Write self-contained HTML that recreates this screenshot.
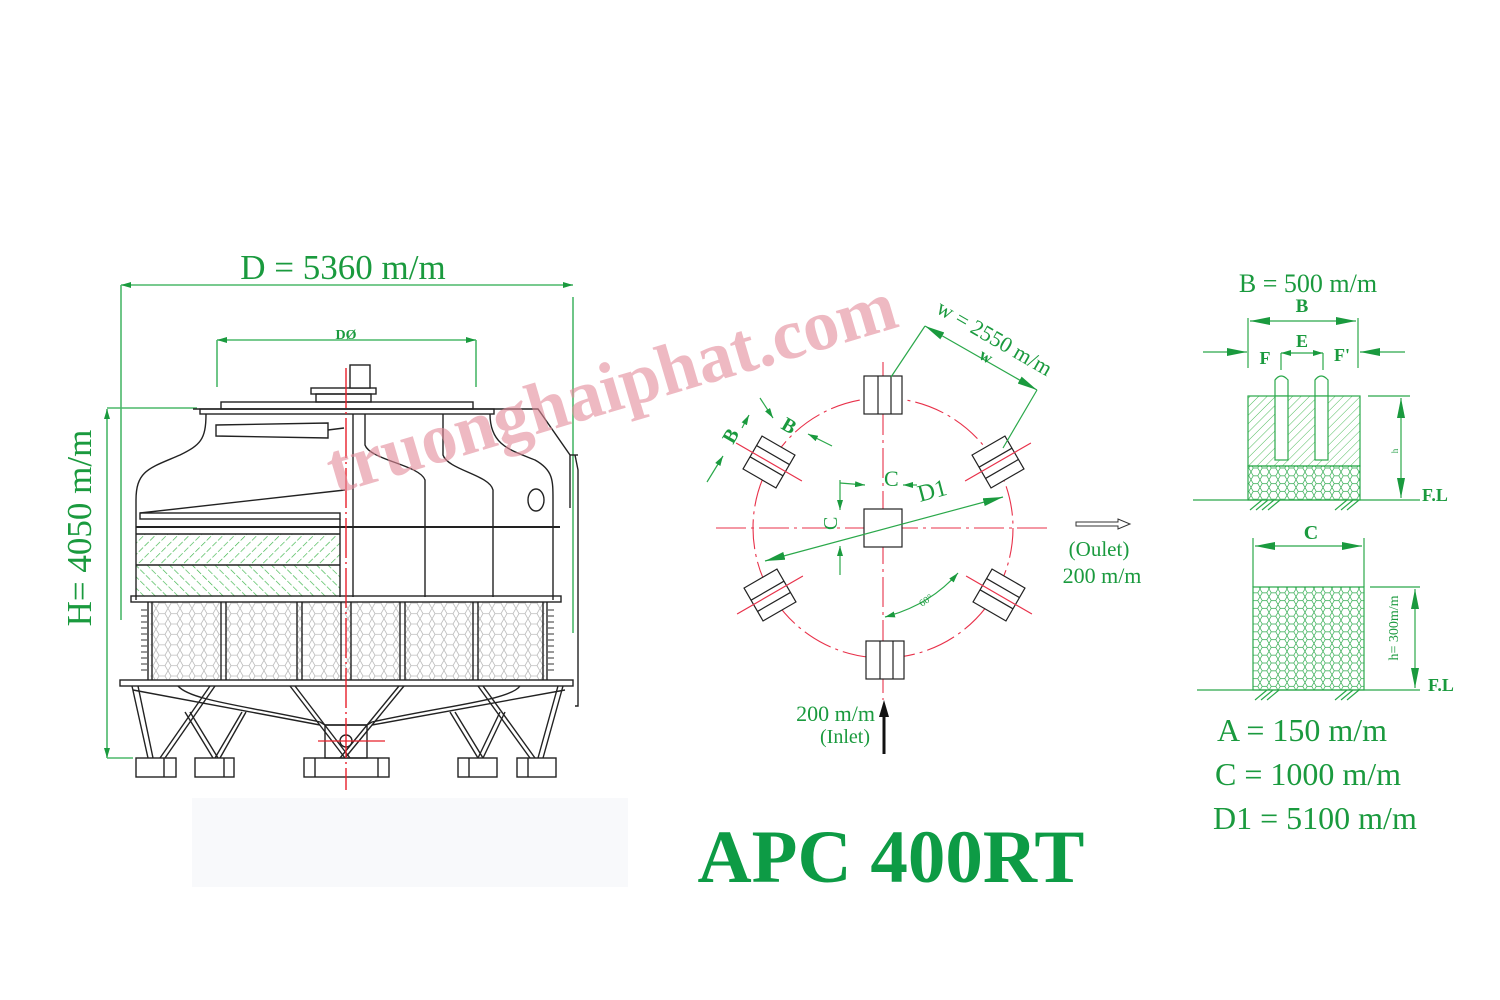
<!DOCTYPE html>
<html><head><meta charset="utf-8">
<style>
html,body{margin:0;padding:0;background:#fff;}
svg{display:block;}
text{font-family:"Liberation Serif",serif;}
</style></head>
<body>
<svg width="1500" height="1000" viewBox="0 0 1500 1000" xmlns="http://www.w3.org/2000/svg">
<defs>
 <pattern id="hexg" width="12" height="10.4" patternUnits="userSpaceOnUse">
  <path d="M0,5.2 L3,0 L9,0 L12,5.2 L9,10.4 L3,10.4 Z" fill="none" stroke="#bbb" stroke-width="0.8"/>
 </pattern>
 <pattern id="hexgr" width="9" height="7.8" patternUnits="userSpaceOnUse">
  <path d="M0,3.9 L2.25,0 L6.75,0 L9,3.9 L6.75,7.8 L2.25,7.8 Z" fill="none" stroke="#2aa84a" stroke-width="0.7"/>
 </pattern>
 <pattern id="hatchR" width="8" height="8" patternUnits="userSpaceOnUse" patternTransform="rotate(45)">
  <line x1="0" y1="0" x2="0" y2="8" stroke="#3cb54a" stroke-width="1.3" stroke-dasharray="4,2"/>
 </pattern>
 <pattern id="hatchL" width="8" height="8" patternUnits="userSpaceOnUse" patternTransform="rotate(-45)">
  <line x1="0" y1="0" x2="0" y2="8" stroke="#3cb54a" stroke-width="1.3" stroke-dasharray="4,2"/>
 </pattern>
 <pattern id="hatchD" width="6" height="6" patternUnits="userSpaceOnUse" patternTransform="rotate(45)">
  <line x1="0" y1="0" x2="0" y2="6" stroke="#3cb54a" stroke-width="0.9"/>
 </pattern>
 <marker id="ar" viewBox="0 0 10 6" refX="10" refY="3" markerWidth="10" markerHeight="6" orient="auto-start-reverse" markerUnits="userSpaceOnUse">
  <path d="M0,0 L10,3 L0,6 Z" fill="#1a9a3e"/>
 </marker>
 <marker id="arb" viewBox="0 0 20 8" refX="20" refY="4" markerWidth="20" markerHeight="8" orient="auto-start-reverse" markerUnits="userSpaceOnUse">
  <path d="M0,0 L20,4 L0,8 Z" fill="#1a9a3e"/>
 </marker>
</defs>

<rect x="192" y="798" width="436" height="89" fill="#f8f9fb"/>

<g stroke="#4bb86a" stroke-width="1.6" fill="none">
 <line x1="121" y1="285" x2="573" y2="285" marker-start="url(#ar)" marker-end="url(#ar)"/>
 <line x1="121" y1="285" x2="121" y2="620"/>
 <line x1="573" y1="297" x2="573" y2="633"/>
 <line x1="217" y1="340" x2="476" y2="340" marker-start="url(#ar)" marker-end="url(#ar)"/>
 <line x1="217" y1="340" x2="217" y2="387"/>
 <line x1="476" y1="340" x2="476" y2="387"/>
 <line x1="107" y1="409" x2="107" y2="758" marker-start="url(#ar)" marker-end="url(#ar)"/>
 <line x1="107" y1="408" x2="197" y2="408"/>
 <line x1="107" y1="758" x2="133" y2="758"/>
</g>
<text x="343" y="279" font-size="35" fill="#1a9a3e" text-anchor="middle">D = 5360 m/m</text>
<text x="346" y="339" font-size="14" font-weight="bold" fill="#1a9a3e" text-anchor="middle">DØ</text>
<text transform="translate(91,528) rotate(-90)" font-size="35" fill="#1a9a3e" text-anchor="middle">H= 4050 m/m</text>

<rect x="136" y="534" width="204" height="31" fill="url(#hatchR)"/>
<rect x="136" y="565" width="204" height="32" fill="url(#hatchL)"/>
<rect x="150" y="602" width="395" height="78" fill="url(#hexg)"/>

<g stroke="#222" stroke-width="1.4" fill="none">
 <rect x="221" y="402" width="252" height="7"/>
 <rect x="311" y="388" width="65" height="6"/>
 <rect x="316" y="394" width="55" height="8"/>
 <rect x="350" y="365" width="20" height="23" fill="#fff"/>
 <rect x="200" y="409" width="294" height="5"/>
 <path d="M206,414 C206,440 200,445 180,455 C150,468 136,470 136,500 L136,600"/>
 <path d="M490,414 C490,445 510,450 535,460 C553,470 553,480 553,500 L553,600"/>
 <path d="M193,409 L538,409 L570,455 L570,508"/>
 <path d="M575,455 L578,470 L578,706 L575,706"/>
 <line x1="570" y1="455" x2="578" y2="455"/>
 <path d="M216,425 L328,423 L328,438 L216,436 Z"/>
 <line x1="328" y1="430" x2="344" y2="428"/>
 <path d="M365,414 L365,445 C370,460 420,465 425,480 L425,597"/>
 <path d="M443,414 L443,455 C448,470 490,475 493,490 L493,597"/>
 <line x1="353" y1="414" x2="353" y2="597"/>
 <ellipse cx="536" cy="500" rx="8" ry="11"/>
 <line x1="140" y1="513" x2="345" y2="490"/>
 <rect x="140" y="513" width="200" height="6"/>
 <line x1="136" y1="527" x2="560" y2="527" stroke-width="2"/>
 <line x1="136" y1="534" x2="340" y2="534"/>
 <line x1="136" y1="565" x2="340" y2="565"/>
 <line x1="340" y1="519" x2="340" y2="597"/>
 <rect x="131" y="596" width="430" height="6"/>
 <line x1="148" y1="602" x2="148" y2="680"/><line x1="152" y1="602" x2="152" y2="680"/>
 <line x1="221" y1="602" x2="221" y2="680"/><line x1="226" y1="602" x2="226" y2="680"/>
 <line x1="297" y1="602" x2="297" y2="680"/><line x1="302" y1="602" x2="302" y2="680"/>
 <line x1="341" y1="602" x2="341" y2="680"/><line x1="351" y1="602" x2="351" y2="680"/>
 <line x1="400" y1="602" x2="400" y2="680"/><line x1="405" y1="602" x2="405" y2="680"/>
 <line x1="473" y1="602" x2="473" y2="680"/><line x1="478" y1="602" x2="478" y2="680"/>
 <line x1="543" y1="602" x2="543" y2="680"/><line x1="547" y1="602" x2="547" y2="680"/>
 <rect x="120" y="680" width="453" height="6"/>
 <path d="M178,686 C190,700 240,705 320,722 L325,725 L367,725 L372,722 C450,705 510,700 520,686"/>
 <path d="M133,690 L320,725"/><path d="M565,690 L372,725"/>
 <path d="M132,686 L148,758"/><path d="M138,686 L153,758"/>
 <path d="M215,686 L165,758"/><path d="M210,686 L160,758"/>
 <path d="M185,712 L213,758"/><path d="M190,712 L218,758"/>
 <path d="M242,712 L215,758"/><path d="M246,712 L220,758"/>
 <path d="M290,686 L345,758"/><path d="M295,686 L350,758"/>
 <path d="M404,686 L345,758"/><path d="M399,686 L340,758"/>
 <path d="M450,712 L478,758"/><path d="M455,712 L483,758"/>
 <path d="M478,686 L530,758"/><path d="M483,686 L535,758"/>
 <path d="M500,712 L478,758"/><path d="M505,712 L483,758"/>
 <path d="M563,686 L543,758"/><path d="M558,686 L538,758"/>
 <rect x="325" y="725" width="42" height="33"/>
 <circle cx="346" cy="741" r="6"/>
 <rect x="136" y="758" width="40" height="19"/><line x1="164" y1="758" x2="164" y2="777"/>
 <rect x="195" y="758" width="39" height="19"/><line x1="224" y1="758" x2="224" y2="777"/>
 <rect x="304" y="758" width="85" height="19"/><line x1="315" y1="758" x2="315" y2="777"/><line x1="378" y1="758" x2="378" y2="777"/>
 <rect x="458" y="758" width="39" height="19"/><line x1="469" y1="758" x2="469" y2="777"/>
 <rect x="517" y="758" width="39" height="19"/><line x1="528" y1="758" x2="528" y2="777"/>
</g>
<g stroke="#333" stroke-width="1">
 <path d="M141,610 h6 M141,616 h6 M141,622 h6 M141,628 h6 M141,634 h6 M141,640 h6 M141,646 h6 M141,652 h6 M141,658 h6 M141,664 h6 M141,670 h6"/>
 <path d="M548,610 h6 M548,616 h6 M548,622 h6 M548,628 h6 M548,634 h6 M548,640 h6 M548,646 h6 M548,652 h6 M548,658 h6 M548,664 h6 M548,670 h6"/>
</g>
<line x1="346" y1="368" x2="346" y2="790" stroke="#e8202a" stroke-width="1.4" stroke-dasharray="40,4,2,4"/>
<line x1="318" y1="741" x2="385" y2="741" stroke="#e8202a" stroke-width="1.2"/>

<g stroke="#e8314a" stroke-width="1.1" fill="none" stroke-dasharray="30,5,3,5">
 <circle cx="883" cy="528" r="130"/>
 <line x1="716" y1="528" x2="1052" y2="528"/>
 <line x1="883" y1="362" x2="883" y2="700"/>
</g>
<g stroke="#222" stroke-width="1.2" fill="#fff">
 <g transform="translate(883,395)"><rect x="-19" y="-19" width="38" height="38"/><line x1="-5" y1="-19" x2="-5" y2="19"/><line x1="8" y1="-19" x2="8" y2="19"/></g>
 <g transform="translate(885,660)"><rect x="-19" y="-19" width="38" height="38"/><line x1="-5" y1="-19" x2="-5" y2="19"/><line x1="8" y1="-19" x2="8" y2="19"/></g>
 <rect x="864" y="509" width="38" height="38"/>
 <g transform="translate(998,462) rotate(60)"><rect x="-19" y="-19" width="38" height="38"/><line x1="-5" y1="-19" x2="-5" y2="19"/><line x1="8" y1="-19" x2="8" y2="19"/><line x1="0" y1="-38" x2="0" y2="38" stroke="#e8314a"/></g>
 <g transform="translate(769,462) rotate(-60)"><rect x="-19" y="-19" width="38" height="38"/><line x1="-5" y1="-19" x2="-5" y2="19"/><line x1="8" y1="-19" x2="8" y2="19"/><line x1="0" y1="-38" x2="0" y2="38" stroke="#e8314a"/></g>
 <g transform="translate(770,595) rotate(60)"><rect x="-19" y="-19" width="38" height="38"/><line x1="-5" y1="-19" x2="-5" y2="19"/><line x1="8" y1="-19" x2="8" y2="19"/><line x1="0" y1="-38" x2="0" y2="38" stroke="#e8314a"/></g>
 <g transform="translate(999,595) rotate(-60)"><rect x="-19" y="-19" width="38" height="38"/><line x1="-5" y1="-19" x2="-5" y2="19"/><line x1="8" y1="-19" x2="8" y2="19"/><line x1="0" y1="-38" x2="0" y2="38" stroke="#e8314a"/></g>
</g>
<g stroke="#2aa84a" stroke-width="1.2" fill="none">
 <line x1="891" y1="377" x2="925" y2="326"/>
 <line x1="925" y1="326" x2="1037" y2="390" marker-start="url(#arb)" marker-end="url(#arb)"/>
 <line x1="1037" y1="390" x2="1003" y2="448"/>
 <line x1="765" y1="561" x2="1003" y2="497" marker-start="url(#arb)" marker-end="url(#arb)"/>
 <line x1="840" y1="483" x2="865" y2="485" marker-end="url(#ar)"/>
 <line x1="840" y1="480" x2="840" y2="510" marker-end="url(#ar)"/>
 <line x1="840" y1="575" x2="840" y2="546" marker-end="url(#ar)"/>
 <line x1="917" y1="485" x2="903" y2="485" marker-end="url(#ar)"/>
 <path d="M885,617 Q930,605 958,573" marker-start="url(#ar)" marker-end="url(#ar)"/>
 <line x1="707" y1="482" x2="723" y2="456" marker-end="url(#ar)"/>
 <line x1="742" y1="428" x2="749" y2="415" marker-end="url(#ar)"/>
 <line x1="760" y1="398" x2="773" y2="418" marker-end="url(#ar)"/>
 <line x1="832" y1="446" x2="808" y2="434" marker-end="url(#ar)"/>
</g>
<text transform="translate(935,312) rotate(30)" font-size="22" fill="#1a9a3e">w = 2550 m/m</text>
<text transform="translate(978,358) rotate(30)" font-size="17" font-weight="bold" fill="#1a9a3e">w</text>
<text x="884" y="486" font-size="22" fill="#1a9a3e">C</text>
<text transform="translate(920,502) rotate(-15)" font-size="24" fill="#1a9a3e">D1</text>
<text transform="translate(837,530) rotate(-90)" font-size="20" fill="#1a9a3e">C</text>
<text transform="translate(733,445) rotate(-60)" font-size="20" font-weight="bold" fill="#1a9a3e">B</text>
<text transform="translate(780,428) rotate(30)" font-size="20" font-weight="bold" fill="#1a9a3e">B</text>
<text transform="translate(922,607) rotate(-35)" font-size="10" fill="#1a9a3e">60°</text>
<path d="M1076,522 L1118,522 L1118,519 L1130,524 L1118,529 L1118,526 L1076,526 Z" fill="#fff" stroke="#333" stroke-width="1"/>
<text x="1099" y="556" font-size="21" fill="#1a9a3e" text-anchor="middle">(Oulet)</text>
<text x="1102" y="583" font-size="22" fill="#1a9a3e" text-anchor="middle">200 m/m</text>
<line x1="884" y1="754" x2="884" y2="715" stroke="#111" stroke-width="3"/>
<path d="M879,717 L884,700 L889,717 Z" fill="#111"/>
<text x="875" y="721" font-size="22" fill="#1a9a3e" text-anchor="end">200 m/m</text>
<text x="870" y="743" font-size="20" fill="#1a9a3e" text-anchor="end">(Inlet)</text>

<text x="1308" y="292" font-size="26" fill="#1a9a3e" text-anchor="middle">B = 500 m/m</text>
<text x="1302" y="312" font-size="19" font-weight="bold" fill="#1a9a3e" text-anchor="middle">B</text>
<g stroke="#2aa84a" stroke-width="1.2" fill="none">
 <line x1="1250" y1="321" x2="1356" y2="321" marker-start="url(#arb)" marker-end="url(#arb)"/>
 <line x1="1248" y1="318" x2="1248" y2="368"/><line x1="1358" y1="318" x2="1358" y2="368"/>
 <line x1="1203" y1="352" x2="1247" y2="352" marker-end="url(#arb)"/>
 <line x1="1405" y1="352" x2="1360" y2="352" marker-end="url(#arb)"/>
 <line x1="1281" y1="353" x2="1302" y2="353" marker-start="url(#ar)"/>
 <line x1="1302" y1="353" x2="1323" y2="353" marker-end="url(#ar)"/>
 <line x1="1281" y1="353" x2="1281" y2="370"/><line x1="1323" y1="353" x2="1323" y2="370"/>
 <rect x="1248" y="396" width="112" height="70" fill="url(#hatchD)"/>
 <rect x="1248" y="466" width="112" height="34" fill="url(#hexgr)"/>
 <rect x="1275" y="396" width="13" height="64" fill="#fff"/>
 <rect x="1315" y="396" width="13" height="64" fill="#fff"/>
 <path d="M1275,396 L1275,380 Q1281,372 1288,380 L1288,396"/>
 <path d="M1315,396 L1315,380 Q1321,372 1328,380 L1328,396"/>
 <line x1="1193" y1="500" x2="1420" y2="500"/>
 <line x1="1368" y1="396" x2="1410" y2="396"/>
 <line x1="1401" y1="398" x2="1401" y2="498" marker-start="url(#arb)" marker-end="url(#arb)"/>
 <line x1="1255" y1="546" x2="1362" y2="546" marker-start="url(#arb)" marker-end="url(#arb)"/>
 <line x1="1253" y1="538" x2="1253" y2="587"/><line x1="1364" y1="538" x2="1364" y2="587"/>
 <rect x="1253" y="587" width="111" height="103" fill="url(#hexgr)"/>
 <line x1="1197" y1="690" x2="1420" y2="690"/>
 <line x1="1370" y1="587" x2="1420" y2="587"/>
 <line x1="1415" y1="589" x2="1415" y2="688" marker-start="url(#arb)" marker-end="url(#arb)"/>
 <path d="M1250,510 L1262,500 M1256,510 L1268,500 M1262,510 L1274,500 M1268,510 L1280,500 M1335,510 L1347,500 M1341,510 L1353,500 M1347,510 L1359,500"/>
 <path d="M1255,700 L1267,690 M1261,700 L1273,690 M1267,700 L1279,690 M1335,700 L1347,690 M1341,700 L1353,690 M1347,700 L1359,690"/>
</g>
<text x="1265" y="364" font-size="18" font-weight="bold" fill="#1a9a3e" text-anchor="middle">F</text>
<text x="1302" y="347" font-size="18" font-weight="bold" fill="#1a9a3e" text-anchor="middle">E</text>
<text x="1342" y="361" font-size="18" font-weight="bold" fill="#1a9a3e" text-anchor="middle">F'</text>
<text transform="translate(1398,451) rotate(-90)" font-size="9" fill="#1a9a3e" text-anchor="middle">h</text>
<text x="1422" y="501" font-size="18" font-weight="bold" fill="#1a9a3e">F.L</text>
<text x="1311" y="539" font-size="20" font-weight="bold" fill="#1a9a3e" text-anchor="middle">C</text>
<text transform="translate(1398,628) rotate(-90)" font-size="14" fill="#1a9a3e" text-anchor="middle">h= 300m/m</text>
<text x="1428" y="691" font-size="18" font-weight="bold" fill="#1a9a3e">F.L</text>
<text x="1217" y="741" font-size="32" fill="#1a9a3e">A = 150 m/m</text>
<text x="1215" y="785" font-size="32" fill="#1a9a3e">C = 1000 m/m</text>
<text x="1213" y="829" font-size="32" fill="#1a9a3e">D1 = 5100 m/m</text>

<text x="891" y="882" font-size="75" font-weight="bold" fill="#0d9b45" text-anchor="middle">APC 400RT</text>

<text transform="translate(618,410) rotate(-16.5)" font-size="72" font-weight="bold" fill="#e38a9a" fill-opacity="0.6" text-anchor="middle">truonghaiphat.com</text>
</svg>
</body></html>
